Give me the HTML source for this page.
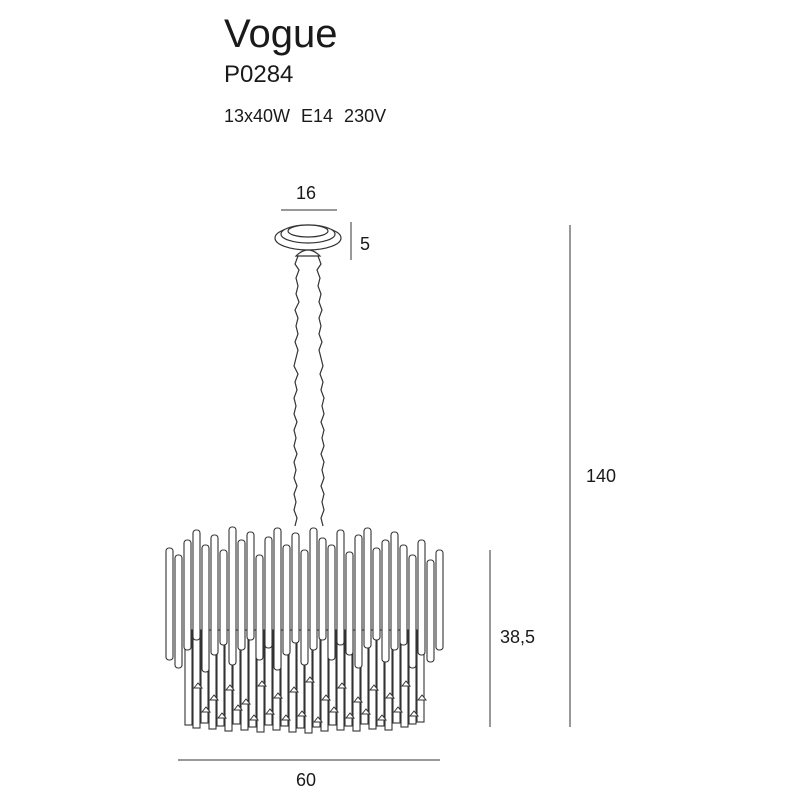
<!DOCTYPE html>
<html><head><meta charset="utf-8"><style>
body{margin:0;background:#fff;width:800px;height:800px;overflow:hidden}
svg{display:block}
text{font-family:"Liberation Sans",sans-serif;fill:#1a1a1a}
</style></head><body>
<svg width="800" height="800" viewBox="0 0 800 800">
<text x="224" y="47" font-size="40">Vogue</text>
<text x="224" y="82" font-size="24">P0284</text>
<text x="224" y="122" font-size="18" word-spacing="6">13x40W E14 230V</text>
<g stroke="#333" stroke-width="1">
<line x1="281" y1="210" x2="337" y2="210"/>
<line x1="351" y1="222" x2="351" y2="260"/>
<line x1="570" y1="225" x2="570" y2="727"/>
<line x1="490" y1="550" x2="490" y2="727"/>
<line x1="178" y1="760" x2="440" y2="760"/>
</g>
<text x="296" y="199" font-size="18">16</text>
<text x="360" y="250" font-size="18">5</text>
<text x="586" y="482" font-size="18">140</text>
<text x="500" y="643" font-size="18">38,5</text>
<text x="296" y="786" font-size="18">60</text>
<g fill="none" stroke="#333" stroke-width="1.2">
<path d="M298 256 l-3 8 4 6 -3 8 2 8 -2 8 3 8 -4 8 3 8 -2 8 2 8 -3 8 3 8 -2 8 -2 8 4 8 -3 8 2 8 -3 8 2 8 -2 8 3 8 -3 8 2 8 -2 8 3 8 -3 8 2 8 -2 8 3 8 -3 8 2 8 -2 8 3 8 -2 8"/>
<path d="M318 256 l3 8 -4 6 3 8 -2 8 3 8 -2 8 3 8 -3 8 2 8 -2 8 3 8 -3 8 2 8 2 8 -3 8 3 8 -2 8 3 8 -2 8 2 8 -3 8 3 8 -2 8 2 8 -3 8 3 8 -2 8 2 8 -3 8 3 8 -2 8 2 8 -3 8 2 8"/>
</g>
<g fill="#fff" stroke="#333" stroke-width="1.2">
<ellipse cx="308" cy="238" rx="33" ry="12"/>
<ellipse cx="308" cy="234" rx="27" ry="9"/>
<ellipse cx="308" cy="231" rx="20" ry="6"/>
<path d="M296 256 q12 -12 24 0 z"/>
</g>
<g fill="#fff" stroke="#333" stroke-width="1.1">
<rect x="185" y="630" width="7" height="95"/><rect x="193" y="630" width="7" height="98"/><rect x="201" y="630" width="7" height="93"/><rect x="209" y="630" width="7" height="99"/><rect x="217" y="630" width="7" height="96"/><rect x="225" y="630" width="7" height="101"/><rect x="233" y="630" width="7" height="94"/><rect x="241" y="630" width="7" height="100"/><rect x="249" y="630" width="7" height="97"/><rect x="257" y="630" width="7" height="102"/><rect x="265" y="630" width="7" height="95"/><rect x="273" y="630" width="7" height="100"/><rect x="281" y="630" width="7" height="96"/><rect x="289" y="630" width="7" height="102"/><rect x="297" y="630" width="7" height="98"/><rect x="305" y="630" width="7" height="103"/><rect x="313" y="630" width="7" height="97"/><rect x="321" y="630" width="7" height="101"/><rect x="329" y="630" width="7" height="95"/><rect x="337" y="630" width="7" height="100"/><rect x="345" y="630" width="7" height="96"/><rect x="353" y="630" width="7" height="101"/><rect x="361" y="630" width="7" height="94"/><rect x="369" y="630" width="7" height="99"/><rect x="377" y="630" width="7" height="96"/><rect x="385" y="630" width="7" height="100"/><rect x="393" y="630" width="7" height="93"/><rect x="401" y="630" width="7" height="97"/><rect x="409" y="630" width="7" height="94"/><rect x="417" y="630" width="7" height="92"/>
</g>
<g fill="#fff" stroke="#333" stroke-width="1">
<path d="M194 688l4-5 4 5zM210 700l4-5 4 5zM226 690l4-5 4 5zM242 704l4-5 4 5zM258 686l4-5 4 5zM274 698l4-5 4 5zM290 692l4-5 4 5zM306 682l4-5 4 5zM322 700l4-5 4 5zM338 688l4-5 4 5zM354 702l4-5 4 5zM370 690l4-5 4 5zM386 698l4-5 4 5zM402 686l4-5 4 5zM418 700l4-5 4 5z"/>
<path d="M202 712l4-5 4 5zM218 718l4-5 4 5zM234 710l4-5 4 5zM250 720l4-5 4 5zM266 714l4-5 4 5zM282 720l4-5 4 5zM298 716l4-5 4 5zM314 722l4-5 4 5zM330 712l4-5 4 5zM346 718l4-5 4 5zM362 714l4-5 4 5zM378 720l4-5 4 5zM394 712l4-5 4 5zM410 716l4-5 4 5z"/>
</g>
<g fill="#fff" stroke="#333" stroke-width="1.1">
<rect x="166" y="548" width="7" height="112" rx="3"/><rect x="175" y="555" width="7" height="113" rx="3"/><rect x="184" y="540" width="7" height="110" rx="3"/><rect x="193" y="530" width="7" height="110" rx="3"/><rect x="202" y="545" width="7" height="127" rx="3"/><rect x="211" y="535" width="7" height="120" rx="3"/><rect x="220" y="550" width="7" height="95" rx="3"/><rect x="229" y="527" width="7" height="138" rx="3"/><rect x="238" y="540" width="7" height="110" rx="3"/><rect x="247" y="532" width="7" height="108" rx="3"/><rect x="256" y="555" width="7" height="105" rx="3"/><rect x="265" y="537" width="7" height="111" rx="3"/><rect x="274" y="528" width="7" height="142" rx="3"/><rect x="283" y="545" width="7" height="110" rx="3"/><rect x="292" y="533" width="7" height="110" rx="3"/><rect x="301" y="550" width="7" height="115" rx="3"/><rect x="310" y="528" width="7" height="122" rx="3"/><rect x="319" y="538" width="7" height="102" rx="3"/><rect x="328" y="545" width="7" height="115" rx="3"/><rect x="337" y="530" width="7" height="115" rx="3"/><rect x="346" y="552" width="7" height="103" rx="3"/><rect x="355" y="535" width="7" height="133" rx="3"/><rect x="364" y="528" width="7" height="120" rx="3"/><rect x="373" y="548" width="7" height="92" rx="3"/><rect x="382" y="540" width="7" height="122" rx="3"/><rect x="391" y="532" width="7" height="118" rx="3"/><rect x="400" y="545" width="7" height="100" rx="3"/><rect x="409" y="555" width="7" height="113" rx="3"/><rect x="418" y="540" width="7" height="115" rx="3"/><rect x="427" y="560" width="7" height="102" rx="3"/><rect x="436" y="550" width="7" height="100" rx="3"/>
</g>
</svg>
</body></html>
